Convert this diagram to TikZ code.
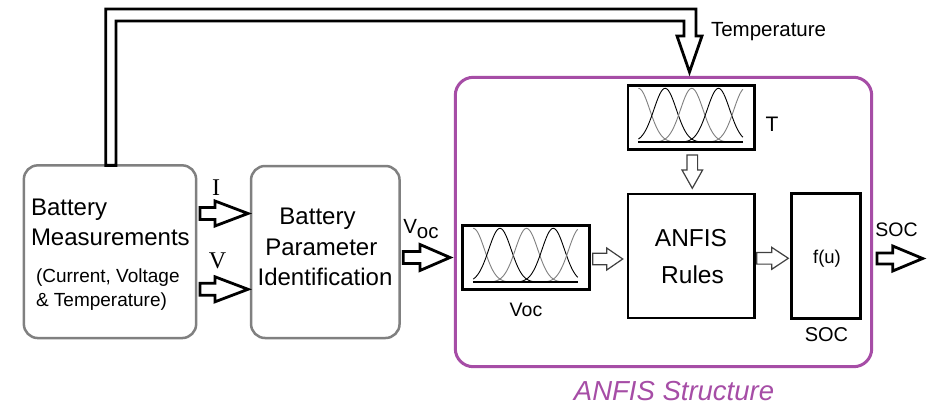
\documentclass[tikz,border=0pt]{standalone}
\usepackage{fontspec}
\setmainfont{Liberation Sans}
\newfontfamily\timesfont{Liberation Serif}
\usetikzlibrary{calc}
\definecolor{anfispurple}{RGB}{166,77,166}
\definecolor{boxgray}{RGB}{128,128,128}
\newcommand\fs[1]{\fontsize{#1}{#1}\selectfont}
% horizontal hollow block arrow: x0, yc, xtip, shaft half, head half, head length, style
\newcommand\harr[7]{%
  \draw[#7] (#1,#2-#4) -- (#3-#6,#2-#4) -- (#3-#6,#2-#5) -- (#3,#2)
    -- (#3-#6,#2+#5) -- (#3-#6,#2+#4) -- (#1,#2+#4) -- cycle;}
% vertical (downward) hollow block arrow: xc, y0, ytip, shaft half, head half, head length, style
\newcommand\varr[7]{%
  \draw[#7] (#1-#4,#2) -- (#1-#4,#3-#6) -- (#1-#5,#3-#6) -- (#1,#3)
    -- (#1+#5,#3-#6) -- (#1+#4,#3-#6) -- (#1+#4,#2) -- cycle;}
% membership functions inside a box (local coordinates from the box's north west corner)
\newcommand\mfcurves[1]{%
  \begin{scope}[shift={(#1.north west)}]
    \foreach \c/\col in {10.5/black!50, 37.2/black, 63.8/black!50, 90.5/black, 117.2/black!50}{
      \pgfmathsetmacro\da{max(10.5,\c-36)}
      \pgfmathsetmacro\db{min(115,\c+36)}
      \draw[\col, line width=0.9pt] plot[domain=\da:\db, samples=45, smooth]
        (\x, {57-54*exp(-((\x-\c)*(\x-\c))/253)});
    }
    \draw[line width=2.2pt] (10,57) -- (115,57);
  \end{scope}}
\begin{document}
\begin{tikzpicture}[x=1pt, y=-1pt,
  graybox/.style={draw=boxgray, line width=2.5pt, rounded corners=14pt, outer sep=0pt, inner sep=0pt, fill=white},
  blackbox/.style={draw=black, line width=2.8pt, outer sep=0pt, inner sep=0pt, fill=white},
  purplebox/.style={draw=anfispurple, line width=3pt, rounded corners=18pt, outer sep=0pt, inner sep=0pt},
  thickarr/.style={draw=black, line width=2.8pt, fill=white, line join=miter},
  thinarr/.style={draw=black!75, line width=1.2pt, fill=white, line join=miter},
  lbl/.style={inner sep=0pt, outer sep=0pt}]
\useasboundingbox (0,0) rectangle (933,404);
\fill[white] (0,0) rectangle (933,404);

% ANFIS structure frame
\node[purplebox, minimum width=416.4pt, minimum height=289.4pt] (anfis) at (663.5,222) {};
\node[lbl, anchor=base, font=\fs{27.5}\itshape, text=anfispurple] (anfislbl) at (674,400) {ANFIS Structure};

% left blocks
\node[graybox, minimum width=172.3pt, minimum height=172.7pt] (bm) at (110,251.7) {};
\node[lbl, anchor=base west, font=\fs{24}] (bm1) at (31,215) {Battery};
\node[lbl, anchor=base west, font=\fs{24}] (bm2) at (31,245) {Measurements};
\node[lbl, anchor=base west, font=\fs{19}] (bm3) at (36,282.7) {(Current, Voltage};
\node[lbl, anchor=base west, font=\fs{19}] (bm4) at (36,306.7) {\& Temperature)};

\node[graybox, minimum width=148.5pt, minimum height=172pt] (bpi) at (325.3,252) {};
\node[lbl, anchor=base, font=\fs{24}] (bpi1) at (317.5,224) {Battery};
\node[lbl, anchor=base, font=\fs{24}] (bpi2) at (321.3,255) {Parameter};
\node[lbl, anchor=base, font=\fs{24}] (bpi3) at (325,285) {Identification};

% inner blocks
\node[blackbox, minimum width=126.7pt, minimum height=64.4pt] (tmf) at (691.3,117.5) {};
\mfcurves{tmf}
\node[lbl, anchor=base, font=\fs{21}] (tlbl) at (772,131.7) {T};

\node[blackbox, minimum width=126.9pt, minimum height=64.4pt] (vmf) at (526.2,257.5) {};
\mfcurves{vmf}
\node[lbl, anchor=base, font=\fs{19.5}] (vlbl) at (526,316.7) {Voc};

\node[blackbox, minimum width=126.7pt, minimum height=124pt] (rules) at (691.3,256) {};
\node[lbl, anchor=base, font=\fs{24.5}] (rules1) at (691,246) {ANFIS};
\node[lbl, anchor=base, font=\fs{24.5}] (rules2) at (692.5,283.3) {Rules};

\node[blackbox, minimum width=69.4pt, minimum height=125pt] (fu) at (826,255.7) {};
\node[lbl, anchor=base, font=\fs{18.5}] (fu1) at (827,263) {f(u)};
\node[lbl, anchor=base, font=\fs{20}] (soclbl) at (826.5,341.7) {SOC};

% temperature feedback (hollow bent arrow)
\draw[thickarr] ($(bm.north)+(-4.3,0)$) -- (105.7,9) -- (696,9) -- (696,36) -- (702,36)
  -- (689.5,72) -- (677,36) -- (684,36) -- (684,21) -- (116,21) -- ($(bm.north)+(6,0)$) -- cycle;
\node[lbl, anchor=base west, font=\fs{20.5}] (templbl) at (711,37) {Temperature};

% thick block arrows
\harr{200}{213.5}{248}{6}{12.5}{33}{thickarr}
\node[lbl, anchor=base, font=\timesfont\fs{24}] (ilbl) at (216,195) {I};
\harr{200}{289.3}{248}{6}{12.5}{33}{thickarr}
\node[lbl, anchor=base, font=\timesfont\fs{24}] (vlbl2) at (217.5,268.3) {V};
\harr{403.3}{257.5}{450}{6}{13}{30}{thickarr}
\node[lbl, anchor=base west, font=\fs{20.5}] (voclbl) at (403.3,233.3) {V\raisebox{-5pt}{oc}};
\harr{877}{258.5}{922.7}{5.5}{12.5}{30}{thickarr}
\node[lbl, anchor=base, font=\fs{19.5}] (socout) at (896.5,236.7) {SOC};

% thin block arrows
\harr{592.7}{259}{622.7}{5.8}{11}{16}{thinarr}
\harr{756.7}{258.3}{788.3}{5.8}{11}{16.6}{thinarr}
\varr{692.3}{155}{188.3}{5.3}{10.3}{18.3}{thinarr}
\end{tikzpicture}
\end{document}
